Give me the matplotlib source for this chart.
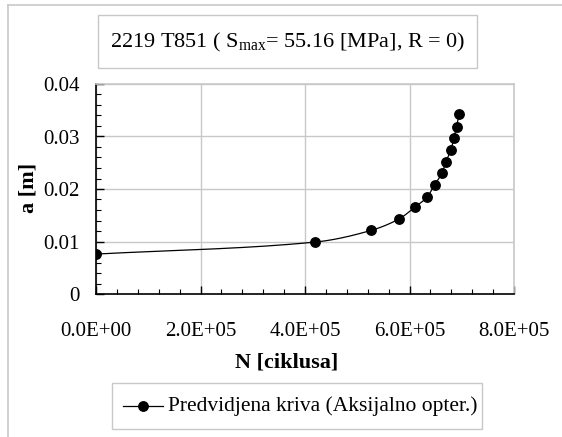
import numpy as np
import matplotlib
matplotlib.use("Agg")
import matplotlib.pyplot as plt
from matplotlib.patches import Rectangle
from matplotlib.lines import Line2D

plt.rcParams['font.family'] = ['Liberation Serif', 'DejaVu Serif']
plt.rcParams['mathtext.fontset'] = 'custom'
plt.rcParams['mathtext.rm'] = 'Liberation Serif'
plt.rcParams['mathtext.it'] = 'Liberation Serif:italic'
plt.rcParams['mathtext.bf'] = 'Liberation Serif:bold'

# data
N_cycles = [0, 4.20e5, 5.26e5, 5.80e5, 6.11e5, 6.34e5, 6.48e5, 6.62e5, 6.70e5,
            6.79e5, 6.85e5, 6.90e5, 6.95e5]
a_m = [0.0076, 0.0099, 0.0121, 0.0143, 0.0166, 0.0185, 0.0208, 0.0230, 0.0252,
       0.0274, 0.0297, 0.0319, 0.0342]
x_ticks = [0, 2e5, 4e5, 6e5, 8e5]
x_ticklabels = ["0.0E+00", "2.0E+05", "4.0E+05", "6.0E+05", "8.0E+05"]
y_ticks = [0, 0.01, 0.02, 0.03, 0.04]
y_ticklabels = ["0", "0.01", "0.02", "0.03", "0.04"]
title = "2219 T851 ( S$_{\\mathrm{max}}$= 55.16 [MPa], R = 0)"
legend_label = "Predvidjena kriva (Aksijalno opter.)"

W, H = 562, 437
fig = plt.figure(figsize=(W / 100, H / 100), dpi=100)

# outer chart frame (left & top visible)
fig.add_artist(Line2D([8 / W, 8 / W], [0, 1 - 5 / H], color='#c8c8c8', lw=1.2,
                      transform=fig.transFigure))
fig.add_artist(Line2D([8 / W, 1], [1 - 5 / H, 1 - 5 / H], color='#c8c8c8', lw=1.2,
                      transform=fig.transFigure))

L, R, T, B = 96, 514, 84, 294
ax = fig.add_axes([L / W, 1 - B / H, (R - L) / W, (B - T) / H])


def pchip_curve(xs, ys, n=40):
    # monotone cubic (Fritsch-Carlson) smoothing of the line through the points
    x = np.asarray(xs, float)
    y = np.asarray(ys, float)
    h = np.diff(x)
    d = np.diff(y) / h
    m = np.zeros_like(x)
    m[0], m[-1] = d[0], d[-1]
    for k in range(1, len(x) - 1):
        if d[k - 1] * d[k] <= 0:
            m[k] = 0
        else:
            w1 = 2 * h[k] + h[k - 1]
            w2 = h[k] + 2 * h[k - 1]
            m[k] = (w1 + w2) / (w1 / d[k - 1] + w2 / d[k])
    X, Y = [], []
    for k in range(len(x) - 1):
        t = np.linspace(0, 1, n)
        h00 = 2 * t ** 3 - 3 * t ** 2 + 1
        h10 = t ** 3 - 2 * t ** 2 + t
        h01 = -2 * t ** 3 + 3 * t ** 2
        h11 = t ** 3 - t ** 2
        X.append(x[k] + t * h[k])
        Y.append(h00 * y[k] + h10 * h[k] * m[k] + h01 * y[k + 1] + h11 * h[k] * m[k + 1])
    return np.concatenate(X), np.concatenate(Y)


sx_, sy_ = pchip_curve(N_cycles, a_m)
ax.plot(sx_, sy_, color='black', lw=0.9, zorder=3)
ax.plot(N_cycles, a_m, 'o', color='black', ms=6.8, zorder=4)

ax.set_xlim(0, 8e5)
ax.set_ylim(0, 0.04)
ax.set_xticks(x_ticks)
ax.set_xticklabels(x_ticklabels)
ax.set_yticks(y_ticks)
ax.set_yticklabels(y_ticklabels)
ax.set_xticks(np.arange(0, 8e5 + 1, 4e4), minor=True)
ax.set_yticks(np.arange(0, 0.0401, 0.002), minor=True)
ax.grid(True, which='major', color='#c8c8c8', lw=1.0)
ax.set_axisbelow(True)
ax.tick_params(which='major', direction='in', length=6, width=1, labelsize=15,
               color='black')
ax.tick_params(which='minor', direction='in', length=3.5, width=0.8, color='black')
ax.tick_params(axis='y', which='major', pad=12)
ax.tick_params(axis='x', which='major', pad=20)
ax.tick_params(top=False, right=False, which='both')
for s in ['top', 'right']:
    ax.spines[s].set_color('#c8c8c8')
    ax.spines[s].set_linewidth(1.2)
for s in ['left', 'bottom']:
    ax.spines[s].set_color('black')
    ax.spines[s].set_linewidth(1.2)

fig.text(287 / W, 1 - 362 / H, "N [ciklusa]", ha='center', va='center',
         fontsize=16, fontweight='bold')
fig.text(28 / W, 1 - 188 / H, "a [m]", ha='center', va='center', rotation=90,
         fontsize=16, fontweight='bold')

# title box
fig.add_artist(Rectangle((98 / W, 1 - 68 / H), (477 - 98) / W, (68 - 15) / H,
                         transform=fig.transFigure, fill=False,
                         edgecolor='#c8c8c8', lw=1.0))
fig.text(287.5 / W, 1 - 42 / H, title, ha='center', va='center', fontsize=16)

# legend box
fig.add_artist(Rectangle((112 / W, 1 - 429 / H), (482 - 112) / W, (429 - 383) / H,
                         transform=fig.transFigure, fill=False,
                         edgecolor='#c8c8c8', lw=1.0))
ly = 1 - 406 / H
fig.add_artist(Line2D([123 / W, 163 / W], [ly, ly], color='black', lw=0.9,
                      transform=fig.transFigure))
fig.add_artist(Line2D([143 / W], [ly], marker='o', color='black', ms=6.8,
                      transform=fig.transFigure))
fig.text(168 / W, ly, legend_label, ha='left', va='center', fontsize=15.5)

fig.savefig("out.png", dpi=100)
